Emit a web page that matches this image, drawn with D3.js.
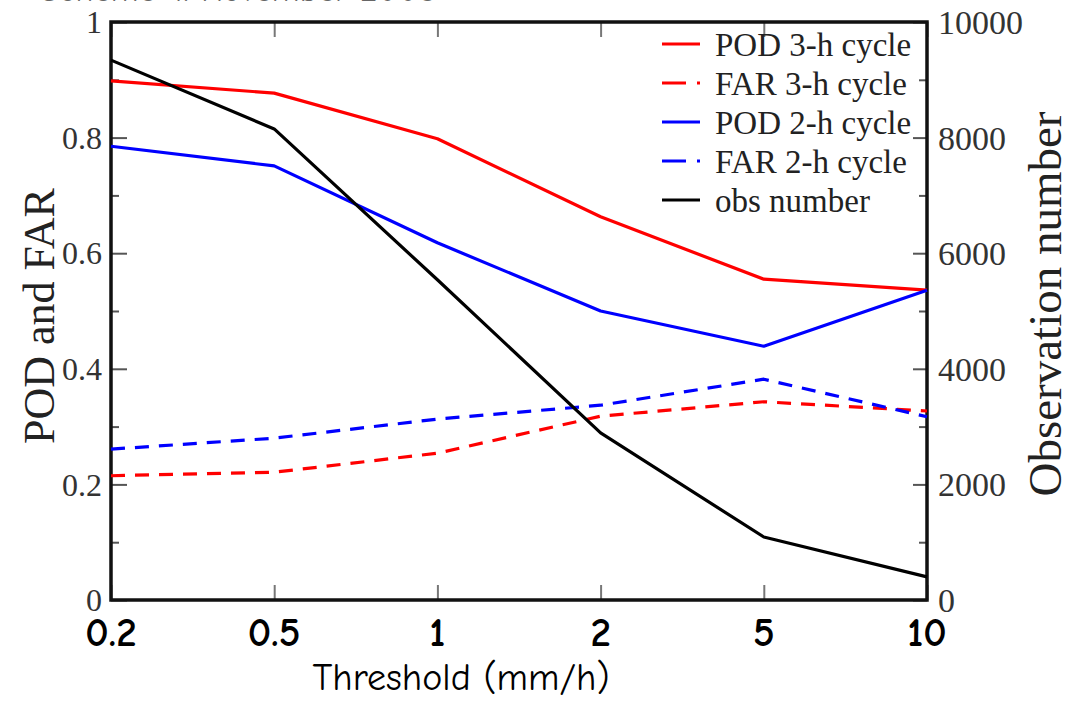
<!DOCTYPE html>
<html>
<head>
<meta charset="utf-8">
<script src="https://cdn.jsdelivr.net/npm/d3@7"></script>
<style>
  body { margin:0; background:#fff; }
  svg { display:block; }
</style>
</head>
<body>
<div id="chart"></div>
<script>
// data
var thresholds = ["0.2","0.5","1","2","5","10"];
var pod3h = [0.898, 0.877, 0.798, 0.663, 0.555, 0.536];
var far3h = [0.215, 0.221, 0.254, 0.318, 0.343, 0.327];
var pod2h = [0.785, 0.751, 0.618, 0.500, 0.439, 0.536];
var far2h = [0.261, 0.280, 0.313, 0.337, 0.382, 0.317];
var obsNumber = [9340, 8150, 5540, 2890, 1090, 400];
var leftTicks = [0, 0.2, 0.4, 0.6, 0.8, 1];
var rightTicks = [0, 2000, 4000, 6000, 8000, 10000];
var legendNames = ["POD 3-h cycle","FAR 3-h cycle","POD 2-h cycle","FAR 2-h cycle","obs number"];

var W = 1071, H = 702;
var pLeft = 111, pRight = 927, pTop = 22, pBottom = 600;

var svg = d3.select("#chart").append("svg").attr("width", W).attr("height", H);

var x = d3.scalePoint().domain(thresholds).range([pLeft, pRight]);
var yL = d3.scaleLinear().domain([0, 1]).range([pBottom, pTop]);
var yR = d3.scaleLinear().domain([0, 10000]).range([pBottom, pTop]);

var serif = "'Liberation Serif', 'Times New Roman', serif";
var comic = "'Comic Sans MS', 'Comic Neue', 'DejaVu Sans', sans-serif";

// clipped title at the very top, only its lower edge shows
svg.append("text")
  .attr("x", 40).attr("y", 1)
  .attr("font-family", comic).attr("font-size", 34)
  .attr("fill", "#666")
  .text("Scheme 4: November 2008");

// left axis ticks, inward
var gL = svg.append("g").attr("transform", "translate(" + pLeft + ",0)");
gL.call(d3.axisRight(yL).tickValues(d3.range(0, 1.01, 0.1)).tickSize(8).tickFormat(""));
gL.select(".domain").remove();
gL.selectAll(".tick line").attr("stroke", "#555").attr("stroke-width", 2)
  .attr("x2", function(d){ return Math.round(d*10) % 2 == 0 ? 16 : 8; });
leftTicks.forEach(function(v){
  svg.append("text").attr("x", pLeft - 9).attr("y", yL(v)).attr("dy", "0.35em")
    .attr("text-anchor", "end").attr("font-family", serif).attr("font-size", 32)
    .attr("fill", "#333").text(v == 0 ? "0" : (v == 1 ? "1" : v.toFixed(1)));
});

// right axis ticks, inward
var gR = svg.append("g").attr("transform", "translate(" + pRight + ",0)");
gR.call(d3.axisLeft(yR).tickValues(d3.range(0, 10001, 1000)).tickSize(8).tickFormat(""));
gR.select(".domain").remove();
gR.selectAll(".tick line").attr("stroke", "#555").attr("stroke-width", 2)
  .attr("x2", function(d){ return (d/1000) % 2 == 0 ? -14 : -8; });
rightTicks.forEach(function(v){
  svg.append("text").attr("x", pRight + 11).attr("y", yR(v)).attr("dy", "0.35em")
    .attr("font-family", serif).attr("font-size", 34)
    .attr("fill", "#333").text(v);
});

// bottom and top ticks
var gB = svg.append("g").attr("transform", "translate(0," + pBottom + ")");
gB.call(d3.axisTop(x).tickSize(15).tickFormat(""));
gB.select(".domain").remove();
gB.selectAll(".tick line").attr("stroke", "#777").attr("stroke-width", 2);
var gT = svg.append("g").attr("transform", "translate(0," + pTop + ")");
gT.call(d3.axisBottom(x).tickSize(15).tickFormat(""));
gT.select(".domain").remove();
gT.selectAll(".tick line").attr("stroke", "#777").attr("stroke-width", 2);

thresholds.forEach(function(t){
  svg.append("text").attr("x", x(t)).attr("y", 646)
    .attr("text-anchor", "middle").attr("font-family", comic).attr("font-size", 41)
    .attr("font-weight", "bold")
    .attr("fill", "#000").text(t);
});

// frame
svg.append("rect").attr("x", pLeft).attr("y", pTop)
  .attr("width", pRight - pLeft).attr("height", pBottom - pTop)
  .attr("fill", "none").attr("stroke", "#111").attr("stroke-width", 3.5);

// series
var series = [
  {vals: pod3h, color: "#ff0000", dash: null, scale: yL},
  {vals: far3h, color: "#ff0000", dash: "14,10", scale: yL},
  {vals: pod2h, color: "#0000ff", dash: null, scale: yL},
  {vals: far2h, color: "#0000ff", dash: "14,10", scale: yL},
  {vals: obsNumber, color: "#000000", dash: null, scale: yR}
];

series.forEach(function(s){
  var line = d3.line()
    .x(function(d, i){ return x(thresholds[i]); })
    .y(function(d){ return s.scale(d); });
  svg.append("path").datum(s.vals)
    .attr("fill", "none").attr("stroke", s.color).attr("stroke-width", 3.2)
    .attr("stroke-linejoin", "round")
    .attr("stroke-dasharray", s.dash)
    .attr("d", line);
});

// legend
var lg = svg.append("g");
legendNames.forEach(function(n, i){
  var yy = 44 + i * 39;
  lg.append("line").attr("x1", 662).attr("x2", 700).attr("y1", yy).attr("y2", yy)
    .attr("stroke", series[i].color).attr("stroke-width", 3)
    .attr("stroke-dasharray", series[i].dash ? "24,11" : null);
  lg.append("text").attr("x", 715).attr("y", yy).attr("dy", "0.35em")
    .attr("font-family", serif).attr("font-size", 33).attr("fill", "#222").text(n);
});

// axis titles
svg.append("text")
  .attr("transform", "translate(54," + ((pTop + pBottom) / 2 + 5) + ") rotate(-90)")
  .attr("text-anchor", "middle").attr("font-family", serif).attr("font-size", 44)
  .attr("fill", "#222").text("POD and FAR");
svg.append("text")
  .attr("transform", "translate(1061," + ((pTop + pBottom) / 2 - 7) + ") rotate(-90)")
  .attr("text-anchor", "middle").attr("font-family", serif).attr("font-size", 47)
  .attr("fill", "#222").text("Observation number");
svg.append("text")
  .attr("x", 461).attr("y", 690)
  .attr("text-anchor", "middle").attr("font-family", comic).attr("font-size", 38)
  .attr("fill", "#000").text("Threshold (mm/h)");
</script>
</body>
</html>
